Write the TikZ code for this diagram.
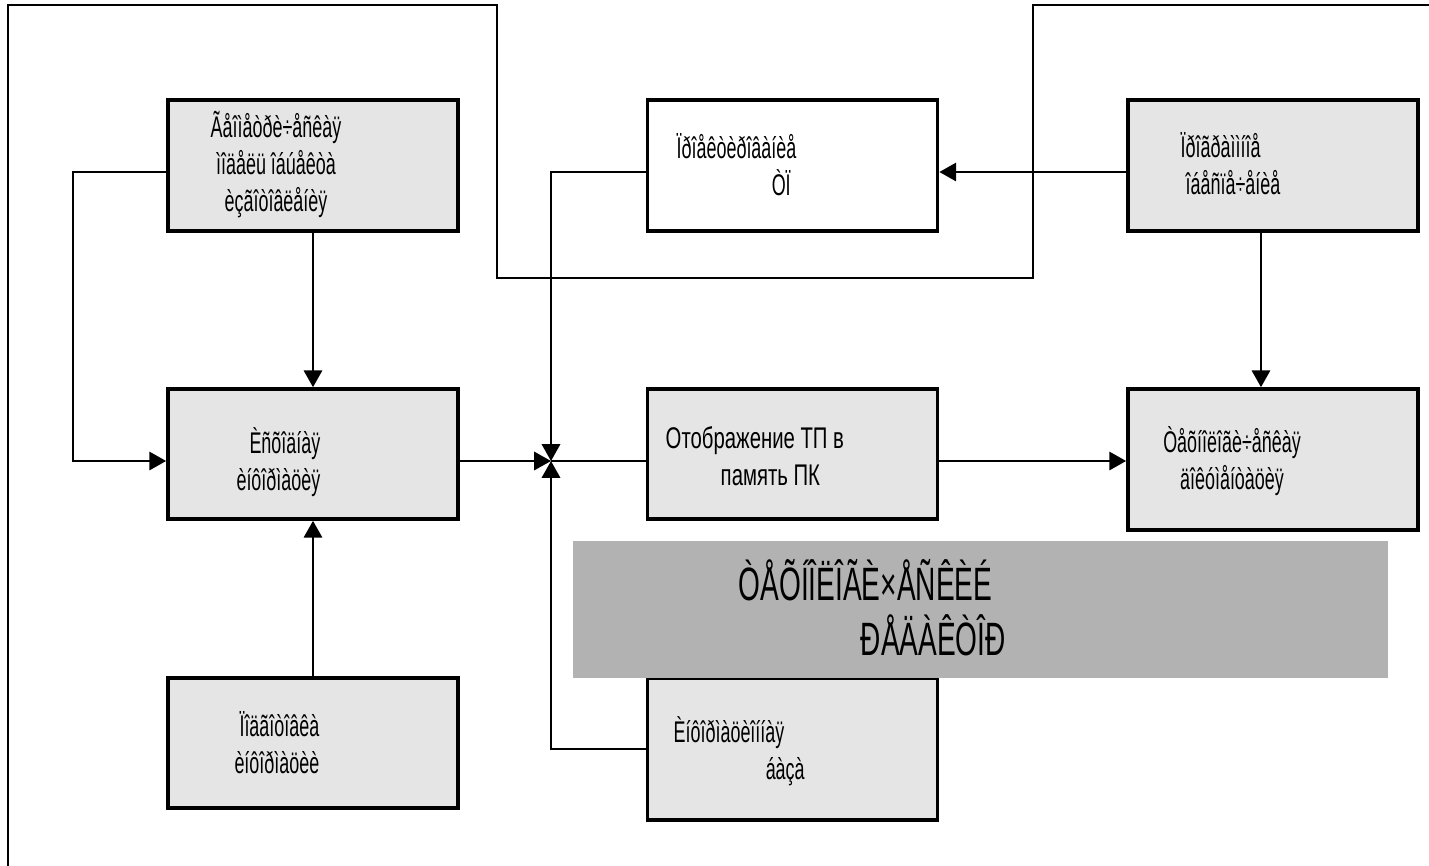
\documentclass[tikz,border=0pt]{standalone}
\usepackage{fontspec}
\setmainfont[FakeStretch=0.6]{Liberation Sans}
\newfontfamily\cyrfont[FakeStretch=0.68]{Liberation Sans}
\usepackage{tikz}
\usetikzlibrary{calc,arrows.meta,positioning}
\tikzstyle{l1}=[line width=0.7pt]
\tikzstyle{blk}=[rectangle, draw=black, fill=gray!20, line width=1pt, minimum width=2.9cm, minimum height=1.31cm, inner sep=0pt]
\tikzstyle{txt}=[inner sep=0pt, font=\fontsize{8.5}{10.5}\selectfont]
\tikzstyle{bigtxt}=[inner sep=0pt, font=\fontsize{13.3}{15.6}\selectfont]
\tikzstyle{arr}=[l1, -{Triangle[length=4.8pt,width=5.2pt]}]

\begin{document}
\begin{tikzpicture}[x=0.01cm, y=-0.01cm]
    \useasboundingbox (0,0) rectangle (1429,866);

    % blocks
    \node[blk] at (313,165.5) (geo) {};
    \node[blk, fill=white] at (792.5,165.5) (proj) {};
    \node[blk] at (1273,165.5) (prog) {};
    \node[blk, minimum height=1.30cm] at (313,454) (src) {};
    \node[blk, minimum height=1.30cm] at (792.5,454) (map) {};
    \node[blk, minimum height=1.41cm] at (1273,459.5) (doc) {};
    \node[blk, minimum height=1.30cm] at (313,743) (prep) {};
    \node[blk, minimum height=1.42cm] at (792.5,749) (base) {};

    % banner
    \node[rectangle, fill=gray!60, draw=black!30, line width=0.4pt, minimum width=8.13cm, minimum height=1.35cm, inner sep=0pt] at (980.5,609.5) (band) {};

    % outer frame line
    \coordinate (f0) at (8,866);
    \coordinate (f1) at (8,5);
    \coordinate (f2) at (497,278);
    \coordinate (f3) at (1033,5);
    \coordinate (f4) at (1429,5);
    \draw[l1] (f0) -- (f1) -| (f2) -| (f3) -- (f4);

    % connectors
    \coordinate (jn) at (551,461);
    \coordinate (fb) at (73,172);
    \draw[arr] (geo.west |- fb) -- (fb) |- (src.west |- jn);
    \draw[arr] (geo.south) -- (src.north);
    \draw[arr] (prep.north) -- (src.south);
    \draw[arr] (src.east |- jn) -- (jn);
    \draw[arr] (proj.west |- fb) -| (jn);
    \draw[arr] (base.west) -| (jn);
    \draw[l1] (jn) -- (map.west |- jn);
    \draw[arr] (map.east |- jn) -- (doc.west |- jn);
    \draw[arr] (prog.west |- fb) -- (proj.east |- fb);
    \draw[arr] ([xshift=-0.12cm]prog.south) -- ([xshift=-0.12cm]doc.north);

    % texts (base = last line)
    \node[txt, align=center, anchor=base] at (276,211) (geoT) {Ãåîìåòðè÷åñêàÿ\\ìîäåëü îáúåêòà\\èçãîòîâëåíèÿ};
    \node[txt, align=left, anchor=base west] at (676,195) (projT) {Ïðîåêòèðîâàíèå\\\hspace*{0.95cm}ÒÏ};
    \node[txt, align=left, anchor=base west] at (1180,194) (progT) {Ïðîãðàììíîå\\\hspace*{0.05cm}îáåñïå÷åíèå};
    \node[txt, align=right, anchor=base east] at (321,490) (srcT) {Èñõîäíàÿ\\èíôîðìàöèÿ};
    \node[txt, align=left, anchor=base west, font=\cyrfont\fontsize{8.5}{10.5}\selectfont] at (665,485) (mapT) {Отображение ТП в\\\hspace*{0.55cm}память ПК};
    \node[txt, align=center, anchor=base] at (1232,489) (docT) {Òåõíîëîãè÷åñêàÿ\\äîêóìåíòàöèÿ};
    \node[txt, align=right, anchor=base east] at (320,773) (prepT) {Ïîäãîòîâêà\\èíôîðìàöèè};
    \node[txt, align=left, anchor=base west] at (673,779) (baseT) {Èíôîðìàöèîííàÿ\\\hspace*{0.92cm}áàçà};
    \node[bigtxt, align=left, anchor=base west] at (738,655) (bandT) {ÒÅÕÍÎËÎÃÈ×ÅÑÊÈÉ\\\hspace*{1.22cm}ÐÅÄÀÊÒÎÐ};
\end{tikzpicture}
\end{document}
